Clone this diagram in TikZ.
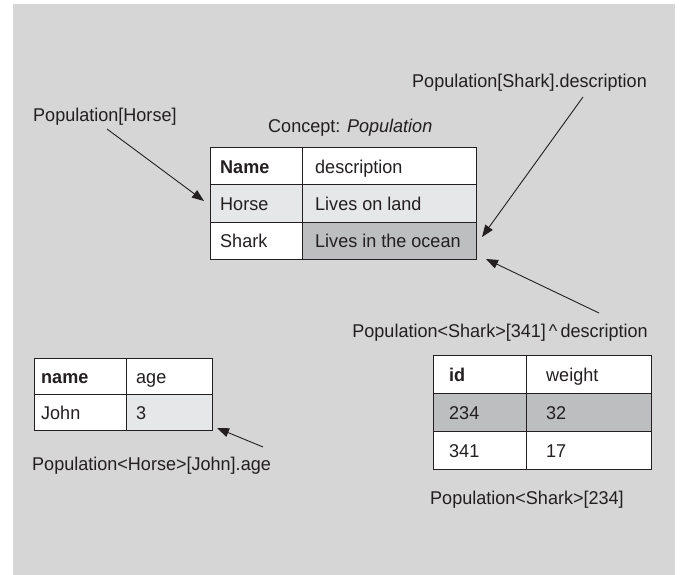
\documentclass[tikz,border=0pt]{standalone}
\usepackage{fontspec}
\setmainfont{Liberation Sans}[FakeStretch=0.975]
\usetikzlibrary{arrows.meta}
\definecolor{bg}{HTML}{D6D6D6}
\definecolor{lt}{HTML}{E6E7E8}
\definecolor{dk}{HTML}{BCBEC0}
\definecolor{ink}{HTML}{231F20}
\begin{document}
\begin{tikzpicture}[x=1pt,y=-1pt,
  every node/.style={font=\fontsize{18.5}{22}\selectfont, text=ink},
  cell/.style={draw=ink, line width=1.1pt, anchor=north west, inner sep=0pt},
  ctext/.style={anchor=base west, inner sep=0pt},
  lbl/.style={inner sep=0pt},
  ptr/.style={draw=ink, line width=0.9pt, -{Triangle[length=12pt,width=9pt]}}]
\useasboundingbox (0,0) rectangle (680,575);
\fill[white] (0,0) rectangle (680,575);
\fill[bg] (13,4) rectangle (675,575);

% --- top table (Concept: Population)
\node[cell, fill=white, minimum width=92pt, minimum height=37.33pt] (a11) at (210,147) {};
\node[cell, fill=white, minimum width=174pt, minimum height=37.33pt] (a12) at (302,147) {};
\node[cell, fill=lt, minimum width=92pt, minimum height=37.33pt] (a21) at (210,184.33) {};
\node[cell, fill=lt, minimum width=174pt, minimum height=37.33pt] (a22) at (302,184.33) {};
\node[cell, fill=white, minimum width=92pt, minimum height=37.33pt] (a31) at (210,221.67) {};
\node[cell, fill=dk, minimum width=174pt, minimum height=37.33pt] (a32) at (302,221.67) {};
\node[ctext] (ta11) at ([xshift=10pt,yshift=-7pt]a11.west) {\bfseries Name};
\node[ctext] (ta12) at ([xshift=13pt,yshift=-7pt]a12.west) {description};
\node[ctext] (ta21) at ([xshift=10pt,yshift=-7pt]a21.west) {Horse};
\node[ctext] (ta22) at ([xshift=13pt,yshift=-7pt]a22.west) {Lives on land};
\node[ctext] (ta31) at ([xshift=10pt,yshift=-7pt]a31.west) {Shark};
\node[ctext] (ta32) at ([xshift=13pt,yshift=-7pt]a32.west) {Lives in the ocean};

% --- left table
\node[cell, fill=white, minimum width=92pt, minimum height=36pt] (b11) at (34,358) {};
\node[cell, fill=white, minimum width=86pt, minimum height=36pt] (b12) at (126,358) {};
\node[cell, fill=white, minimum width=92pt, minimum height=36pt] (b21) at (34,394) {};
\node[cell, fill=lt, minimum width=86pt, minimum height=36pt] (b22) at (126,394) {};
\node[ctext] (tb11) at ([xshift=7pt,yshift=-7pt]b11.west) {\bfseries name};
\node[ctext] (tb12) at ([xshift=10pt,yshift=-7pt]b12.west) {age};
\node[ctext] (tb21) at ([xshift=7pt,yshift=-7pt]b21.west) {John};
\node[ctext] (tb22) at ([xshift=10pt,yshift=-7pt]b22.west) {3};

% --- right table
\node[cell, fill=white, minimum width=93pt, minimum height=38pt] (c11) at (433,355) {};
\node[cell, fill=white, minimum width=125pt, minimum height=38pt] (c12) at (526,355) {};
\node[cell, fill=dk, minimum width=93pt, minimum height=38pt] (c21) at (433,393) {};
\node[cell, fill=dk, minimum width=125pt, minimum height=38pt] (c22) at (526,393) {};
\node[cell, fill=white, minimum width=93pt, minimum height=38pt] (c31) at (433,431) {};
\node[cell, fill=white, minimum width=125pt, minimum height=38pt] (c32) at (526,431) {};
\node[ctext] (tc11) at ([xshift=16pt,yshift=-7pt]c11.west) {\bfseries id};
\node[ctext] (tc12) at ([xshift=20pt,yshift=-7pt]c12.west) {weight};
\node[ctext] (tc21) at ([xshift=16pt,yshift=-7pt]c21.west) {234};
\node[ctext] (tc22) at ([xshift=20pt,yshift=-7pt]c22.west) {32};
\node[ctext] (tc31) at ([xshift=16pt,yshift=-7pt]c31.west) {341};
\node[ctext] (tc32) at ([xshift=20pt,yshift=-7pt]c32.west) {17};

% --- labels
\node[lbl, anchor=base west] (concept) at (268,132) {Concept: \textit{Population}};
\node[lbl, anchor=base west] (lh) at (33,122) {Population[Horse]};
\node[lbl, anchor=base west] (ls) at (412,88) {Population[Shark].description};
\node[lbl, anchor=base east] (ld) at (648,337) {Population<Shark>[341]\,\textasciicircum\,description};
\node[lbl, anchor=base west] (lj) at (32,470) {Population<Horse>[John].age};
\node[lbl, anchor=base west] (l234) at (430,504) {Population<Shark>[234]};

% --- pointer arrows
\coordinate (h0) at (107,129);  \coordinate (h1) at (204,201);
\coordinate (s0) at (583,97);   \coordinate (s1) at (482,237);
\coordinate (d0) at (599,313);  \coordinate (d1) at (486,259);
\coordinate (j0) at (263,447);  \coordinate (j1) at (217,428);
\draw[ptr] (h0) -- (h1);
\draw[ptr] (s0) -- (s1);
\draw[ptr] (d0) -- (d1);
\draw[ptr] (j0) -- (j1);
\end{tikzpicture}
\end{document}
